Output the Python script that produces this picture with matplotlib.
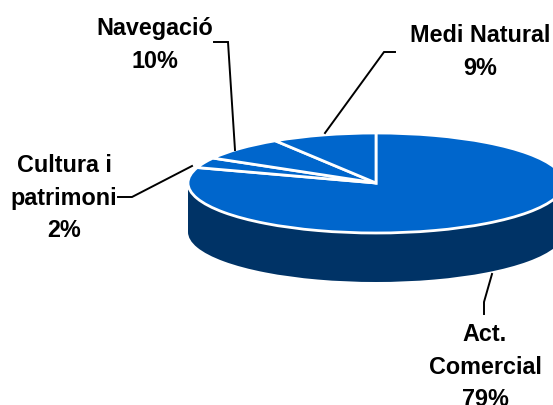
import matplotlib
matplotlib.use("Agg")
import matplotlib.pyplot as plt

W, H = 553, 405

# clockwise from the top
categories = ["Act.\nComercial", "Cultura i\npatrimoni", "Navegació", "Medi Natural"]
values = [79, 2, 10, 9]
# slice sizes as they appear in the picture, its 3D view distorts the angles
drawn_shares = [80, 3.3, 7.7, 9]

top_color = "#0066CC"
side_color = "#003366"

# pie geometry, in image pixels
cx, cy, rx, ry = 376, 183, 188, 50
depth = 49

plt.rcParams["font.family"] = ["Liberation Sans", "DejaVu Sans"]
fig = plt.figure(figsize=(W/100, H/100), dpi=100)

# unit circle stretched to an ellipse
ax = fig.add_axes([(cx-rx)/W, 1-(cy+ry)/H, 2*rx/W, 2*ry/H])
ax.pie(drawn_shares, colors=[side_color]*4, startangle=90, counterclock=False,
       center=(0, -depth/ry), radius=1)
ax.add_patch(plt.Rectangle((-1, -depth/ry), 2, depth/ry, color=side_color, lw=0))
ax.pie(drawn_shares, colors=[top_color]*4, startangle=90, counterclock=False,
       center=(0, 0), radius=1, wedgeprops=dict(edgecolor="white", linewidth=2))
ax.set_aspect("auto")
ax.set_xlim(-1, 1)
ax.set_ylim(-1, 1)
ax.axis("off")

# labels and leader lines, pixel coordinates
over = fig.add_axes([0, 0, 1, 1])
over.set_xlim(0, W)
over.set_ylim(H, 0)
over.axis("off")

label_pos = [(485, 367), (64, 198), (155, 45), (480, 52)]
leaders = [
    ([492, 484, 484], [274, 302, 314]),
    ([118, 132, 192], [197, 197, 166]),
    ([214, 228, 235], [42, 42, 150]),
    ([395, 384, 325], [52, 52, 133]),
]
for name, v, (x, y), (lx, ly) in zip(categories, values, label_pos, leaders):
    over.plot(lx, ly, color="black", lw=1.4, solid_joinstyle="miter")
    over.text(x, y, f"{name}\n{v}%", ha="center", va="center", fontsize=16.8,
              fontweight="bold", linespacing=1.52, color="black")

fig.savefig("out.png", dpi=100)
